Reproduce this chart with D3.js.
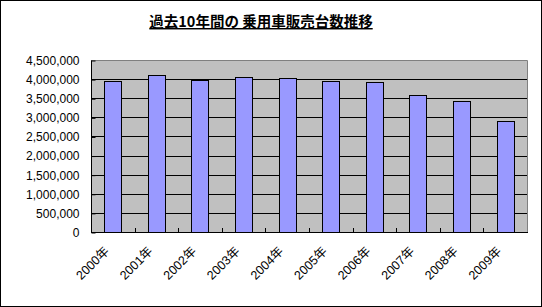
<!DOCTYPE html>
<html><head><meta charset="utf-8">
<script src="https://cdn.jsdelivr.net/npm/d3@7"></script>
<style>body{margin:0;background:#fff}svg{display:block}</style>
</head><body>
<svg id="c" width="542" height="307"></svg>
<script>
const categories = ["2000年","2001年","2002年","2003年","2004年","2005年","2006年","2007年","2008年","2009年"];
const sales = [3960000,4100000,3965000,4050000,4020000,3940000,3920000,3580000,3420000,2900000];
const yTicks = [0,500000,1000000,1500000,2000000,2500000,3000000,3500000,4000000,4500000];
const title = "過去10年間の 乗用車販売台数推移";

const svg = d3.select("#c");
const W = 542, H = 307;
const m = {l:91, r:527, t:60, b:232};
svg.append("rect").attr("x",0.5).attr("y",0.5).attr("width",W-1).attr("height",H-1)
  .attr("fill","#fff").attr("stroke","#000");

const x = d3.scaleBand().domain(categories).range([m.l, m.r]).paddingInner(0.61).paddingOuter(0.305);
const y = d3.scaleLinear().domain([0,4500000]).range([m.b, m.t]);

svg.append("rect").attr("x",m.l).attr("y",m.t).attr("width",m.r-m.l).attr("height",m.b-m.t)
  .attr("fill","#c0c0c0");
svg.append("g").selectAll("line").data(yTicks.filter(d=>d>0 && d<4500000)).join("line")
  .attr("x1",m.l).attr("x2",m.r).attr("y1",d=>Math.round(y(d))+0.5).attr("y2",d=>Math.round(y(d))+0.5)
  .attr("stroke","#000");
svg.append("path").attr("d",`M${m.l},${m.t+0.5}H${m.r+0.5}V${m.b}`).attr("fill","none").attr("stroke","#808080");

svg.append("g").selectAll("rect").data(sales).join("rect")
  .attr("x",(d,i)=>Math.round(x(categories[i]))+0.5).attr("width",Math.round(x.bandwidth()))
  .attr("y",d=>Math.round(y(d))+0.5).attr("height",d=>Math.round(m.b-y(d)))
  .attr("fill","#9999ff").attr("stroke","#000");

const yAxis = d3.axisLeft(y).tickValues(yTicks).tickSize(-4).tickFormat(d3.format(",")).tickPadding(12);
const gy = svg.append("g").attr("transform",`translate(${m.l+0.5},0.5)`).call(yAxis);
gy.select(".domain").attr("stroke","#000").attr("d",`M0,${m.t}V${m.b}`);
gy.selectAll("text").attr("font-family","'Liberation Sans',Arial,sans-serif").attr("font-size",12).attr("fill","#000");

const boundaries = d3.range(1,categories.length).map(i=>m.l + (m.r-m.l)*i/categories.length);
svg.append("g").selectAll("line").data(boundaries).join("line")
  .attr("x1",d=>Math.round(d)+0.5).attr("x2",d=>Math.round(d)+0.5).attr("y1",m.b-4).attr("y2",m.b)
  .attr("stroke","#000");
svg.append("line").attr("x1",m.l).attr("x2",m.r+1).attr("y1",m.b+0.5).attr("y2",m.b+0.5).attr("stroke","#000");

svg.append("g").selectAll("text").data(categories).join("text")
  .attr("transform",d=>`translate(${x(d)+x.bandwidth()/2-3},${m.b+20}) rotate(-45)`)
  .attr("text-anchor","end").attr("font-family","'Liberation Sans',Arial,'Noto Sans CJK JP',sans-serif")
  .attr("font-size",12.5).attr("fill","#000").text(d=>d);

svg.append("text").attr("x",261).attr("y",27).attr("text-anchor","middle")
  .attr("font-family","'Noto Sans CJK JP',sans-serif").attr("font-weight","bold").attr("font-size",14.5)
  .attr("text-decoration","underline").attr("fill","#000").text(title);
</script>
</body></html>
